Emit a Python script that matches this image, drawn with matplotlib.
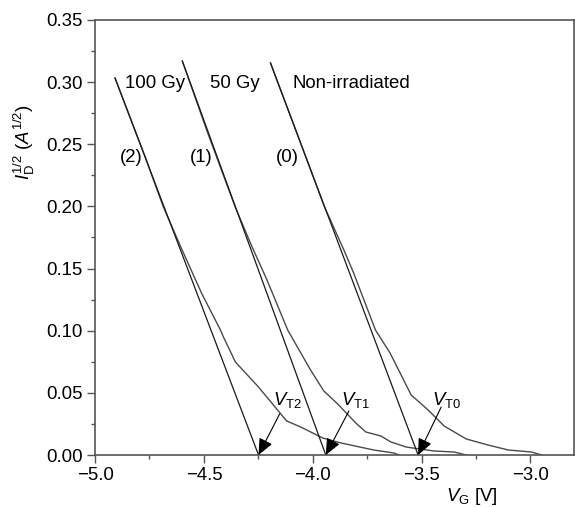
import matplotlib
matplotlib.use("Agg")
import matplotlib.pyplot as plt
from matplotlib.ticker import MultipleLocator

plt.rcParams['font.family'] = ['Liberation Sans', 'DejaVu Sans']
plt.rcParams['mathtext.fontset'] = 'custom'
plt.rcParams['mathtext.rm'] = 'Liberation Sans'
plt.rcParams['mathtext.it'] = 'Liberation Sans:italic'
plt.rcParams['mathtext.bf'] = 'Liberation Sans:bold'

# ---- data ----
# measured sqrt(I_D) vs V_G curves
vg_0 = [-4.194, -4.060, -3.947, -3.857, -3.812, -3.712, -3.645, -3.594, -3.548,
        -3.470, -3.396, -3.295, -3.194, -3.101, -2.995, -2.949]
id_0 = [0.3154, 0.253, 0.200, 0.165, 0.1464, 0.1006, 0.0821, 0.0644, 0.0483,
        0.0362, 0.0233, 0.0129, 0.0080, 0.0040, 0.0024, 0.0]
vg_1 = [-4.599, -4.480, -4.357, -4.280, -4.210, -4.115, -4.010, -3.949,
        -3.885, -3.802, -3.756, -3.687, -3.641, -3.571, -3.442, -3.350, -3.295]
id_1 = [0.317, 0.258, 0.200, 0.168, 0.1408, 0.1006, 0.0684, 0.0515,
        0.0410, 0.0257, 0.0185, 0.0153, 0.0105, 0.0064, 0.0032, 0.0024, 0.0]
vg_2 = [-4.908, -4.772, -4.687, -4.600, -4.510, -4.424, -4.410, -4.355, -4.249,
        -4.120, -4.055, -3.954, -3.871, -3.719, -3.627, -3.604]
id_2 = [0.3033, 0.241, 0.200, 0.165, 0.130, 0.1006, 0.0949, 0.0748, 0.0547,
        0.0274, 0.0225, 0.0137, 0.0097, 0.0040, 0.0016, 0.0]

# linear fits: start point and threshold voltage (intercept)
fit_v_start = [-4.194, -4.599, -4.908]
fit_i_start = [0.3154, 0.317, 0.3033]
vt = [-3.516, -3.94, -4.249]

dose_labels = ["Non-irradiated", "50 Gy", "100 Gy"]
dose_label_v = [-4.092, -4.470, -4.862]
dose_label_i = 0.2993
num_labels = ["(0)", "(1)", "(2)"]
num_label_v = [-4.115, -4.512, -4.834]
num_label_i = 0.2397
vt_labels = [r"$V_{\mathrm{T0}}$", r"$V_{\mathrm{T1}}$", r"$V_{\mathrm{T2}}$"]
vt_text_v = [-3.385, -3.805, -4.118]
vt_text_i = 0.0443
vt_tail_v = [-3.410, -3.834, -4.152]
vt_tail_i = [0.0386, 0.0354, 0.033]

xticks = [-5.0, -4.5, -4.0, -3.5, -3.0]
yticks = [0.00, 0.05, 0.10, 0.15, 0.20, 0.25, 0.30, 0.35]

# ---- figure ----
fig = plt.figure(figsize=(5.75, 5.07), dpi=100)
ax = fig.add_axes([95/575, 52/507, 479/575, 435/507])

meas_color = '#4a4a4a'
fit_color = '#1a1a1a'
for v, i in [(vg_0, id_0), (vg_1, id_1), (vg_2, id_2)]:
    ax.plot(v, i, color=meas_color, lw=1.0, solid_joinstyle='round')
for vs, is_, t in zip(fit_v_start, fit_i_start, vt):
    ax.plot([vs, t], [is_, 0.0], color=fit_color, lw=0.9)

fs = 13.4
for lab, v in zip(dose_labels, dose_label_v):
    ax.text(v, dose_label_i, lab, fontsize=fs, ha='left', va='center')
for lab, v in zip(num_labels, num_label_v):
    ax.text(v, num_label_i, lab, fontsize=fs, ha='center', va='center')
for lab, tv, tx, ti, t in zip(vt_labels, vt_text_v, vt_tail_v, vt_tail_i, vt):
    ax.text(tv, vt_text_i, lab, fontsize=fs, ha='center', va='center')
    ax.annotate("", xy=(t, 0.0), xytext=(tx, ti),
                arrowprops=dict(arrowstyle='-|>,head_length=0.5,head_width=0.22',
                                mutation_scale=20, color='black', lw=0.8,
                                shrinkA=0, shrinkB=0),
                annotation_clip=False)

ax.set_xlim(-5.0, -2.8)
ax.set_ylim(0.0, 0.35)
ax.set_xticks(xticks)
ax.set_yticks(yticks)
ax.set_xticklabels([f"\u2212{abs(x):.1f}" for x in xticks])
ax.set_yticklabels([f"{y:.2f}" for y in yticks])
ax.xaxis.set_minor_locator(MultipleLocator(0.25))
ax.yaxis.set_minor_locator(MultipleLocator(0.025))
ax.tick_params(which='major', direction='out', length=6, width=1.0,
               color='#555555', labelsize=fs, pad=3)
ax.tick_params(which='minor', direction='out', length=3.2, width=1.0,
               color='#555555')
for s in ax.spines.values():
    s.set_color('#555555')
    s.set_linewidth(1.2)

ax.set_ylabel(r"$I_{\mathrm{D}}^{1/2}$ ($A^{1/2}$)", fontsize=fs)
ax.yaxis.set_label_coords(-0.122, 0.72)
ax.set_xlabel(r"$V_{\mathrm{G}}$ [V]", fontsize=fs)
ax.xaxis.set_label_coords(0.787, -0.071)

fig.savefig("out.png", dpi=100)
